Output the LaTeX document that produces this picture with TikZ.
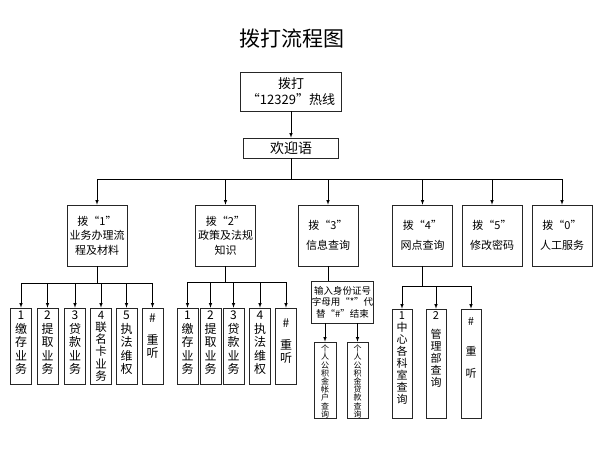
\documentclass[tikz,border=0pt]{standalone}
\usepackage{fontspec}
\setmainfont{Noto Sans CJK SC}
\newcommand{\vcol}[2]{\parbox[c][#1][t]{18pt}{\centering\vspace*{3pt}#2}}

\tikzset{
  box/.style={draw=black!85, line width=0.6pt, inner sep=1pt, align=center},
  menu/.style={box, minimum width=60pt, minimum height=61pt, font=\fontsize{11}{14.5}\selectfont},
  leaf/.style={draw=black!85, line width=0.6pt, inner sep=0pt, minimum width=21pt, font=\fontsize{12}{13.5}\selectfont},
  every path/.style={line width=0.6pt},
}

\begin{document}
\begin{tikzpicture}[x=1pt,y=-1pt]
  \useasboundingbox (0,0) rectangle (599,449);

  \node[font=\fontsize{21}{24}\selectfont] (title) at (292,39) {拨打流程图};
  \node[box, minimum width=101pt, minimum height=39pt, font=\fontsize{13}{16}\selectfont] (call) at (291,91.5) {拨打\\“12329”热线};
  \node[box, minimum width=95pt, minimum height=20pt, font=\fontsize{14}{16}\selectfont] (hello) at (291,148) {欢迎语};
  \draw[-latex] (call) -- (hello);

  % menu keys
  \node[menu] (k1) at (97,235.5) {拨“1”\\业务办理流\\程及材料};
  \node[menu] (k2) at (225.5,235.5) {拨“2”\\政策及法规\\知识};
  \node[menu] (k3) at (328,235.5) {拨“3”\\[6pt]信息查询};
  \node[menu] (k4) at (422.5,235.5) {拨“4”\\[6pt]网点查询};
  \node[menu] (k5) at (492,235.5) {拨“5”\\[6pt]修改密码};
  \node[menu] (k0) at (562,235.5) {拨“0”\\[6pt]人工服务};

  \coordinate (bus) at (291,179);
  \draw (hello) -- (bus);
  \foreach \k in {k1,k2,k3,k4,k5,k0}
    \draw[-latex] (bus) -| (\k);

  % key 1
  \node[leaf] (a1) at (21,346) {\vcol{76pt}{1\\缴\\存\\业\\务}};
  \node[leaf] (a2) at (47.5,346) {\vcol{76pt}{2\\提\\取\\业\\务}};
  \node[leaf] (a3) at (75,346) {\vcol{76pt}{3\\贷\\款\\业\\务}};
  \node[leaf, font=\fontsize{11.5}{12.2}\selectfont] (a4) at (101,346) {\vcol{76pt}{4\\联\\名\\卡\\业\\务}};
  \node[leaf] (a5) at (126.5,346) {\vcol{76pt}{5\\执\\法\\维\\权}};
  \node[leaf] (a6) at (152.5,346) {\vcol{76pt}{\vspace*{3pt}\#\\[8pt]重\\听}};

  \coordinate (bus1) at (97,283);
  \draw (k1) -- (bus1);
  \foreach \i in {1,...,6}
    \draw[-latex] (bus1) -| (a\i);

  % key 2
  \node[leaf] (c1) at (187.5,346) {\vcol{76pt}{1\\缴\\存\\业\\务}};
  \node[leaf] (c2) at (210.5,346) {\vcol{76pt}{2\\提\\取\\业\\务}};
  \node[leaf] (c3) at (233.5,346) {\vcol{76pt}{3\\贷\\款\\业\\务}};
  \node[leaf] (c4) at (260,346) {\vcol{76pt}{4\\执\\法\\维\\权}};
  \node[leaf] (c5) at (286,346) {\vcol{76pt}{\vspace*{8pt}\#\\[8pt]重\\听}};

  \coordinate (bus2) at (225.5,282);
  \draw (k2) -- (bus2);
  \foreach \i in {1,...,5}
    \draw[-latex] (bus2) -| (c\i);

  % key 3
  \node[box, minimum width=61pt, minimum height=42pt, inner sep=0pt, font=\fontsize{9.5}{11.5}\selectfont] (inp) at (342.5,302) {输入身份证号\\字母用“*”代\\替“\#”结束};
  \draw (k3) -- (k3 |- inp.north);
  \node[leaf, minimum width=22pt, font=\fontsize{8}{8.2}\selectfont] (d1) at (325,380) {\vcol{76pt}{个\\人\\公\\积\\金\\帐\\户\\查\\询}};
  \node[leaf, font=\fontsize{8}{8.2}\selectfont] (d2) at (357.5,380) {\vcol{76pt}{个\\人\\公\\积\\金\\贷\\款\\查\\询}};
  \draw[-latex] (inp.south -| d1) -- (d1);
  \draw[-latex] (inp.south -| d2) -- (d2);

  % key 4
  \node[leaf, minimum width=20pt, font=\fontsize{11}{12}\selectfont] (e1) at (402,363.5) {\vcol{109pt}{1\\中\\心\\各\\科\\室\\查\\询}};
  \node[leaf, minimum width=20pt, font=\fontsize{11}{12}\selectfont] (e2) at (436,363.5) {\vcol{109pt}{2\\[7pt]管\\理\\部\\查\\询}};
  \node[leaf, minimum width=20pt, font=\fontsize{11}{12}\selectfont] (e3) at (471,363.5) {\vcol{109pt}{\vspace*{6pt}\#\\[18pt]重\\[10pt]听}};

  \coordinate (bus4) at (422.5,286);
  \draw (k4) -- (bus4);
  \foreach \i in {1,2,3}
    \draw[-latex] (bus4) -| (e\i);
\end{tikzpicture}
\end{document}
